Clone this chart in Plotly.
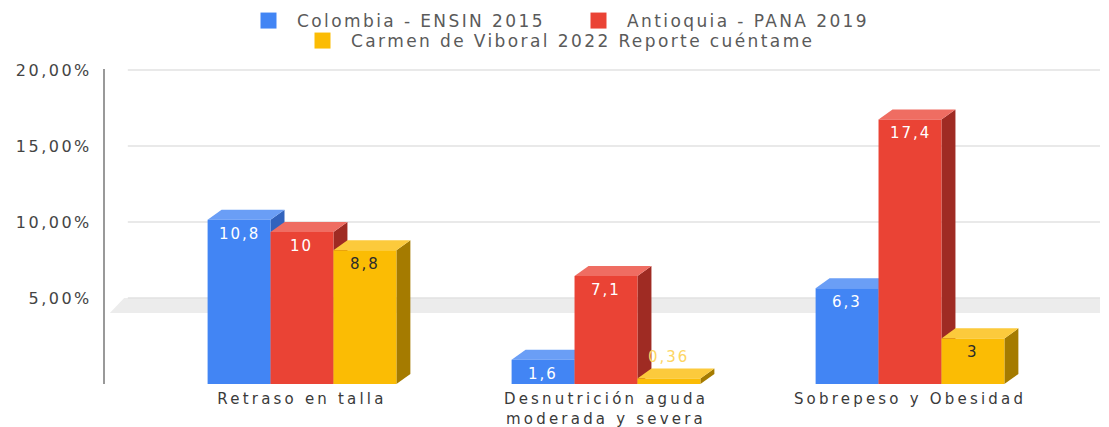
import plotly.graph_objects as go

# ---------------- data ----------------
category_lines = [["Retraso en talla"],
                  ["Desnutrición aguda", "moderada y severa"],
                  ["Sobrepeso y Obesidad"]]
series_names = ["Colombia - ENSIN 2015",
                "Antioquia - PANA 2019",
                "Carmen de Viboral 2022 Reporte cuéntame"]
colombia = [10.8, 1.6, 6.3]
antioquia = [10, 7.1, 17.4]
carmen = [8.8, 0.36, 3]
y_tick_values = [5, 10, 15, 20]
y_tick_labels = ["5,00%", "10,00%", "15,00%", "20,00%"]

# ---------------- style ----------------
front_colors = ["#4285f4", "#ea4335", "#fbbc04"]
top_colors = ["#6a9ef6", "#ef6d62", "#fcca3c"]
side_colors = ["#3263bd", "#9f2b23", "#a57b00"]
label_colors = ["#ffffff", "#ffffff", "#2b2b2b"]
outside_label_colors = ["#8fb4f8", "#f28b82", "#fdd663"]

X_RANGE = [-0.648, 2.625]
Y_RANGE = [0, 20.72]
BAR_W = 0.207
DX = 0.046   # depth offset in x units
DY = 0.66    # depth offset in y units
WALL_X = 0.075
FONT = "DejaVu Sans"


def sp(text, ls):
    return '<span style="letter-spacing:%spx">%s</span>' % (ls, text)


def fmt(v):
    s = ("%g" % v)
    return s.replace(".", ",")


series = [colombia, antioquia, carmen]
x_cats = list(range(len(category_lines)))

fig = go.Figure()
shapes = []

# floor band at first gridline level
lvl = y_tick_values[0]
x0, x1 = X_RANGE
shapes.append(dict(type="path", xref="x", yref="y", layer="below",
                   path="M %f,%f L %f,%f L %f,%f L %f,%f Z" % (
                       x0 + 0.016, lvl - 0.33, x0 + WALL_X - 0.012, lvl + DY,
                       x1, lvl + DY, x1, lvl - 0.33),
                   fillcolor="#ececec", line=dict(width=0)))
# back-wall gridlines
for v in y_tick_values:
    shapes.append(dict(type="line", xref="x", yref="y", layer="below",
                       x0=x0 + WALL_X, x1=x1, y0=v + DY, y1=v + DY,
                       line=dict(color="#e2e2e2", width=1.5)))

annotations = []
for s, vals in enumerate(series):
    offset = (s - 1) * BAR_W - BAR_W / 2
    fig.add_trace(go.Bar(x=x_cats, y=vals, width=BAR_W, offset=offset,
                         marker=dict(color=front_colors[s], line=dict(width=0)),
                         showlegend=False, name=series_names[s]))
    for c, v in zip(x_cats, vals):
        left = c + offset
        right = left + BAR_W
        shapes.append(dict(type="path", xref="x", yref="y", layer="below",
                           path="M %f,%f L %f,%f L %f,%f L %f,%f Z" % (
                               right, 0, right + DX, DY, right + DX, v + DY, right, v),
                           fillcolor=side_colors[s], line=dict(width=0)))
        shapes.append(dict(type="path", xref="x", yref="y", layer="below",
                           path="M %f,%f L %f,%f L %f,%f L %f,%f Z" % (
                               left, v, left + DX, v + DY, right + DX, v + DY, right, v),
                           fillcolor=top_colors[s], line=dict(width=0)))
        cx = left + BAR_W / 2
        if v >= 1.2:
            annotations.append(dict(x=cx, y=v, xref="x", yref="y", yanchor="top",
                                    yshift=-3, showarrow=False,
                                    text=sp(fmt(v), 2),
                                    font=dict(family=FONT, size=15, color=label_colors[s])))
        else:
            annotations.append(dict(x=cx, y=v + DY, xref="x", yref="y", yanchor="bottom",
                                    yshift=0, showarrow=False,
                                    text=sp(fmt(v), 2),
                                    font=dict(family=FONT, size=15, color=outside_label_colors[s])))

# legend entries
legend_ids = ["legend", "legend", "legend2"]
for s in range(3):
    fig.add_trace(go.Scatter(x=[None], y=[None], mode="markers",
                             marker=dict(symbol="square", size=16, color=front_colors[s],
                                         line=dict(width=0)),
                             name=sp(series_names[s], 2.4), showlegend=True,
                             legend=legend_ids[s], hoverinfo="skip"))

ticktext_x = ["<br>".join(sp(t, 3.2) for t in lines) for lines in category_lines]

fig.update_layout(
    width=1109, height=427,
    margin=dict(l=105, r=9, t=69, b=43, autoexpand=False),
    paper_bgcolor="white", plot_bgcolor="white",
    font=dict(family=FONT, color="#444444"),
    barmode="overlay",
    shapes=shapes,
    annotations=annotations,
    xaxis=dict(range=X_RANGE, tickvals=x_cats, ticktext=ticktext_x,
               showgrid=False, zeroline=False, showline=False, ticks="",
               ticklabelstandoff=4, automargin=False,
               tickfont=dict(family=FONT, size=15, color="#3a3a3a"), fixedrange=True),
    yaxis=dict(range=Y_RANGE, tickvals=[v + DY for v in y_tick_values],
               ticktext=[sp(t, 2.5) for t in y_tick_labels],
               showgrid=False, zeroline=False, showline=True,
               linecolor="#999999", linewidth=2, ticks="",
               ticklabelstandoff=8, automargin=False,
               tickfont=dict(family=FONT, size=16, color="#444444"), fixedrange=True),
    legend=dict(orientation="h", x=(240 - 105) / 995, xanchor="left",
                y=(384 - 21) / 315, yanchor="middle", itemwidth=47,
                entrywidth=268, font=dict(family=FONT, size=17, color="#5a5a5a"),
                bgcolor="rgba(0,0,0,0)"),
    legend2=dict(orientation="h", x=(294 - 105) / 995, xanchor="left",
                 y=(384 - 41) / 315, yanchor="middle", itemwidth=47,
                 font=dict(family=FONT, size=17, color="#5a5a5a"),
                 bgcolor="rgba(0,0,0,0)"),
)

fig.write_html("out.html", config={"displayModeBar": False},
               post_script="document.body.style.margin='0px';")
